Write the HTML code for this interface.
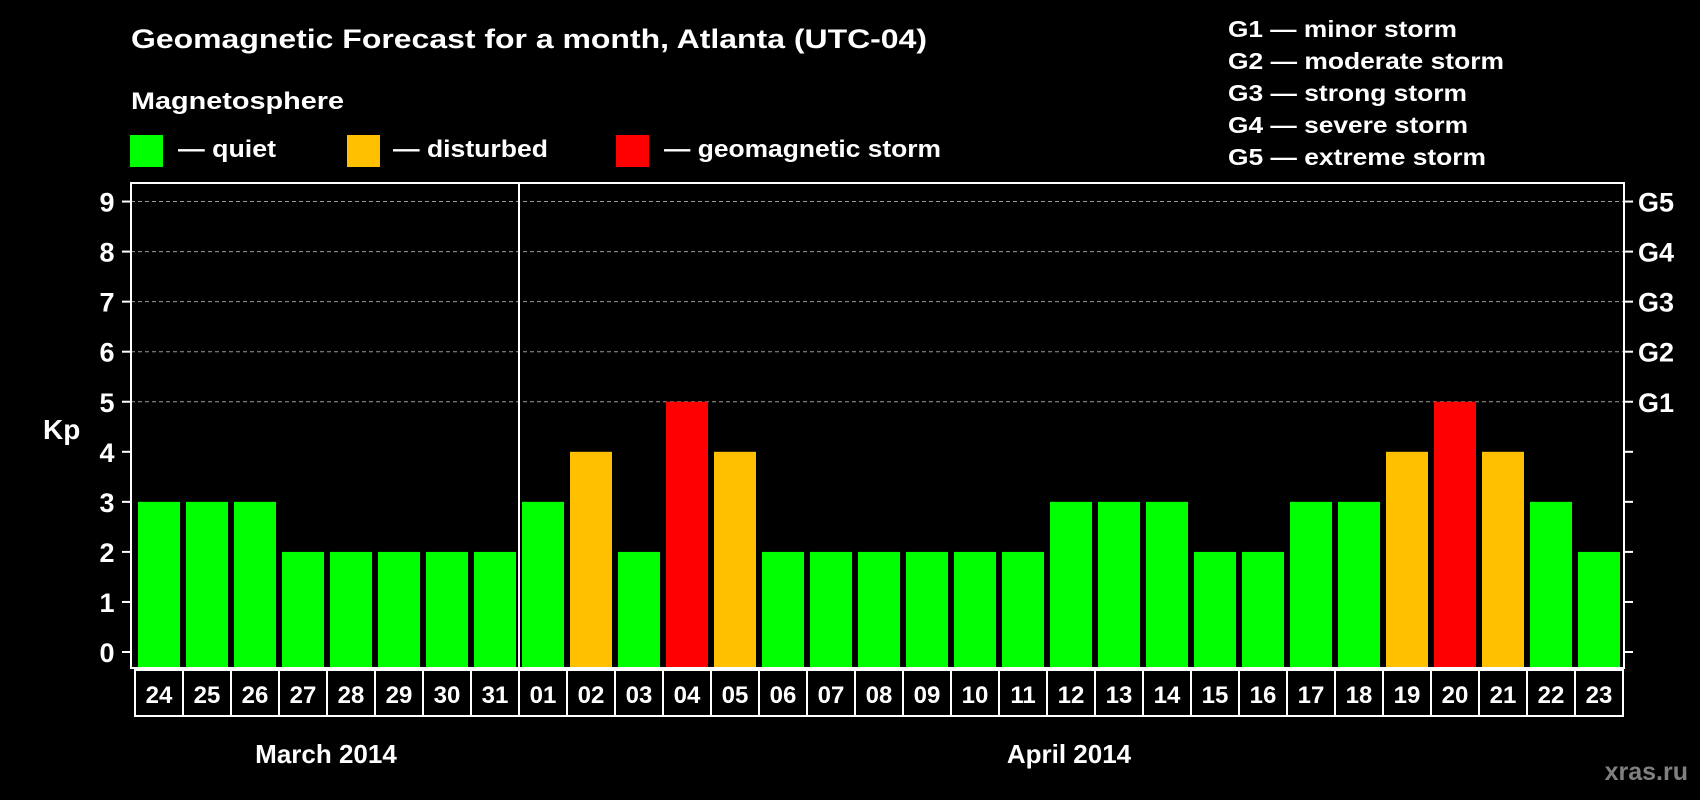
<!DOCTYPE html>
<html><head><meta charset="utf-8"><style>
html,body{margin:0;padding:0;background:#000;width:1700px;height:800px;overflow:hidden}
svg{display:block;font-family:"Liberation Sans",Arial,sans-serif;font-weight:bold}
</style></head><body>
<svg id="chart" width="1700" height="800" xmlns="http://www.w3.org/2000/svg">
<rect width="1700" height="800" fill="#000"/>
<text x="131" y="48" fill="#fff" font-size="27" textLength="796" lengthAdjust="spacingAndGlyphs">Geomagnetic Forecast for a month, Atlanta (UTC-04)</text>
<text x="131" y="109" fill="#fff" font-size="24" textLength="213" lengthAdjust="spacingAndGlyphs">Magnetosphere</text>
<rect x="130" y="135" width="33" height="32" fill="#00ff00"/>
<text x="178" y="157" fill="#fff" font-size="24" textLength="98" lengthAdjust="spacingAndGlyphs">— quiet</text>
<rect x="347" y="135" width="33" height="32" fill="#ffc000"/>
<text x="393" y="157" fill="#fff" font-size="24" textLength="155" lengthAdjust="spacingAndGlyphs">— disturbed</text>
<rect x="616" y="135" width="33" height="32" fill="#ff0000"/>
<text x="664" y="157" fill="#fff" font-size="24" textLength="277" lengthAdjust="spacingAndGlyphs">— geomagnetic storm</text>
<g fill="#fff" font-size="23">
<text x="1228" y="37" textLength="229" lengthAdjust="spacingAndGlyphs">G1 — minor storm</text>
<text x="1228" y="69" textLength="276" lengthAdjust="spacingAndGlyphs">G2 — moderate storm</text>
<text x="1228" y="101" textLength="239" lengthAdjust="spacingAndGlyphs">G3 — strong storm</text>
<text x="1228" y="133" textLength="240" lengthAdjust="spacingAndGlyphs">G4 — severe storm</text>
<text x="1228" y="165" textLength="258" lengthAdjust="spacingAndGlyphs">G5 — extreme storm</text>
</g>
<text x="43" y="439" fill="#fff" font-size="28">Kp</text>
<text x="326" y="763" fill="#fff" font-size="26" text-anchor="middle">March 2014</text>
<text x="1069" y="763" fill="#fff" font-size="26" text-anchor="middle">April 2014</text>
<text x="1688" y="780" fill="#808080" font-size="25" text-anchor="end">xras.ru</text>
<g id="plot"></g>
</svg>
<script>
const days = ["24","25","26","27","28","29","30","31","01","02","03","04","05","06","07","08","09","10","11","12","13","14","15","16","17","18","19","20","21","22","23"];
const kp = [3,3,3,2,2,2,2,2,3,4,2,5,4,2,2,2,2,2,2,3,3,3,2,2,3,3,4,5,4,3,2];
const yTicks = [0,1,2,3,4,5,6,7,8,9];
const gLabels = ["G1","G2","G3","G4","G5"];
const gLevels = [5,6,7,8,9];
const monthBreakIndex = 8;

const NS = "http://www.w3.org/2000/svg";
const plot = document.getElementById("plot");
const L = 131, R = 1624, T = 183, B = 668;
const y0 = 652, unit = 50.05;
const pitch = 48, barW = 42, x0 = 138;
const yScale = v => y0 - v * unit;
const xScale = i => x0 + i * pitch;
const colorFor = v => v >= 5 ? "#ff0000" : (v >= 4 ? "#ffc000" : "#00ff00");
function mk(tag, attrs) { const e = document.createElementNS(NS, tag); for (const k in attrs) e.setAttribute(k, attrs[k]); plot.appendChild(e); return e; }

// grid lines for G levels
gLevels.forEach((lv, i) => {
  const g = mk("line", {x1: L, x2: R, y1: yScale(lv), y2: yScale(lv), stroke: "#999", "stroke-width": 1, "stroke-dasharray": "4,3"});
  
  
  const t = mk("text", {x: R + 14, y: yScale(lv) + 10, fill: "#fff", "font-size": 27});
  t.textContent = gLabels[i];
  
  
});
// y ticks
yTicks.forEach(v => {
  const y = yScale(v);
  const a = mk("line", {x1: L - 9, x2: L, y1: y, y2: y, stroke: "#fff", "stroke-width": 2});
  
  
  const b = mk("line", {x1: R, x2: R + 9, y1: y, y2: y, stroke: "#fff", "stroke-width": 2});
  
  
  const t = mk("text", {x: 107, y: y + 10, fill: "#fff", "font-size": 27, "text-anchor": "middle"});
  t.textContent = String(v);
  
  
});
// bars
kp.forEach((v, i) => {
  const r = mk("rect", {x: xScale(i), y: yScale(v), width: barW, height: B - 1 - yScale(v), fill: colorFor(v)});
  
  
});
// frame
const fr = mk("rect", {x: L, y: T, width: R - L, height: B - T, fill: "none", stroke: "#fff", "stroke-width": 2});


const dv = mk("line", {x1: xScale(monthBreakIndex) - 3, x2: xScale(monthBreakIndex) - 3, y1: T, y2: B, stroke: "#fff", "stroke-width": 2});


// date boxes
days.forEach((d, i) => {
  const bx = mk("rect", {x: xScale(i) - 3, y: 670, width: pitch, height: 46, fill: "none", stroke: "#fff", "stroke-width": 2});
  
  
  const t = mk("text", {x: xScale(i) + barW / 2, y: 703, fill: "#fff", "font-size": 24, "text-anchor": "middle"});
  t.textContent = d;
  
  
});
</script>
</body></html>
